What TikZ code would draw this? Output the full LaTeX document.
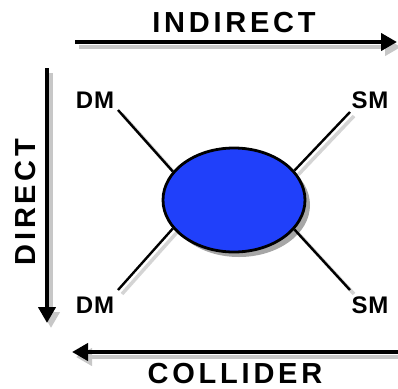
\documentclass[tikz,border=0pt]{standalone}
\usepackage{fontspec}
\setmainfont{Liberation Sans}
\usetikzlibrary{arrows.meta,shapes.geometric,shadows}
\definecolor{eblue}{RGB}{32,64,250}
\pgfdeclarelayer{bg}
\pgfsetlayers{bg,main}
\begin{document}
\begin{tikzpicture}[x=1pt,y=-1pt,
  axis/.style={line width=4.5pt,-{Triangle[length=16pt,width=17pt]}},
  axshadow/.style={axis,draw=black!22,fill=black!22,transform canvas={xshift=4pt,yshift=-5pt}},
  link/.style={line width=2.4pt},
  linkshadow/.style={line width=3.5pt,draw=black!17,transform canvas={xshift=4pt,yshift=-4pt}},
  lab/.style={font=\bfseries\fontsize{29}{31}\selectfont\addfontfeature{LetterSpace=13},anchor=base,inner sep=0pt},
  small/.style={font=\bfseries\fontsize{24}{26}\selectfont\addfontfeature{LetterSpace=4},anchor=base,inner sep=0pt},
  ell/.style={ellipse,draw=black,line width=2.8pt,fill=eblue,minimum width=142pt,minimum height=104pt,inner sep=0pt,
    drop shadow={shadow xshift=5pt,shadow yshift=-5pt,opacity=0.35,fill=black}}
]
\useasboundingbox (0,0) rectangle (398,388);

% axes
\coordinate (ta) at (75,42);
\coordinate (tb) at (397,42);
\coordinate (la) at (47,68);
\coordinate (lb) at (47,323);
\coordinate (ba) at (400,352);
\coordinate (bb) at (72,352);

\begin{pgfonlayer}{bg}
\draw[axshadow] (ta) -- (tb);
\draw[axshadow] (la) -- (lb);
\draw[axshadow] (ba) -- (bb);
\end{pgfonlayer}
\draw[axis] (ta) -- (tb);
\draw[axis] (la) -- (lb);
\draw[axis] (ba) -- (bb);

% axis labels
\node[lab] (indirect) at (234,32) {INDIRECT};
\node[lab] (collider) at (235,383) {COLLIDER};
\node[lab,rotate=90] (direct) at (35,202) {DIRECT};

% centre ellipse
\node[ell] (e) at (234,200) {};

% corner labels
\node[small] (dm1) at (95,108) {DM};
\node[small] (sm1) at (370,108) {SM};
\node[small] (dm2) at (95,313) {DM};
\node[small] (sm2) at (370,313) {SM};

\coordinate (c1) at (118,110);
\coordinate (c2) at (350,112);
\coordinate (c3) at (118,290);
\coordinate (c4) at (350,290);

\begin{pgfonlayer}{bg}
\draw[linkshadow] (c1) -- (e.155);
\draw[linkshadow] (c2) -- (e.26);
\draw[linkshadow] (c3) -- (e.205);
\draw[linkshadow] (c4) -- (e.334);
\end{pgfonlayer}
\draw[link] (c1) -- (e.155);
\draw[link] (c2) -- (e.26);
\draw[link] (c3) -- (e.205);
\draw[link] (c4) -- (e.334);
\end{tikzpicture}
\end{document}
